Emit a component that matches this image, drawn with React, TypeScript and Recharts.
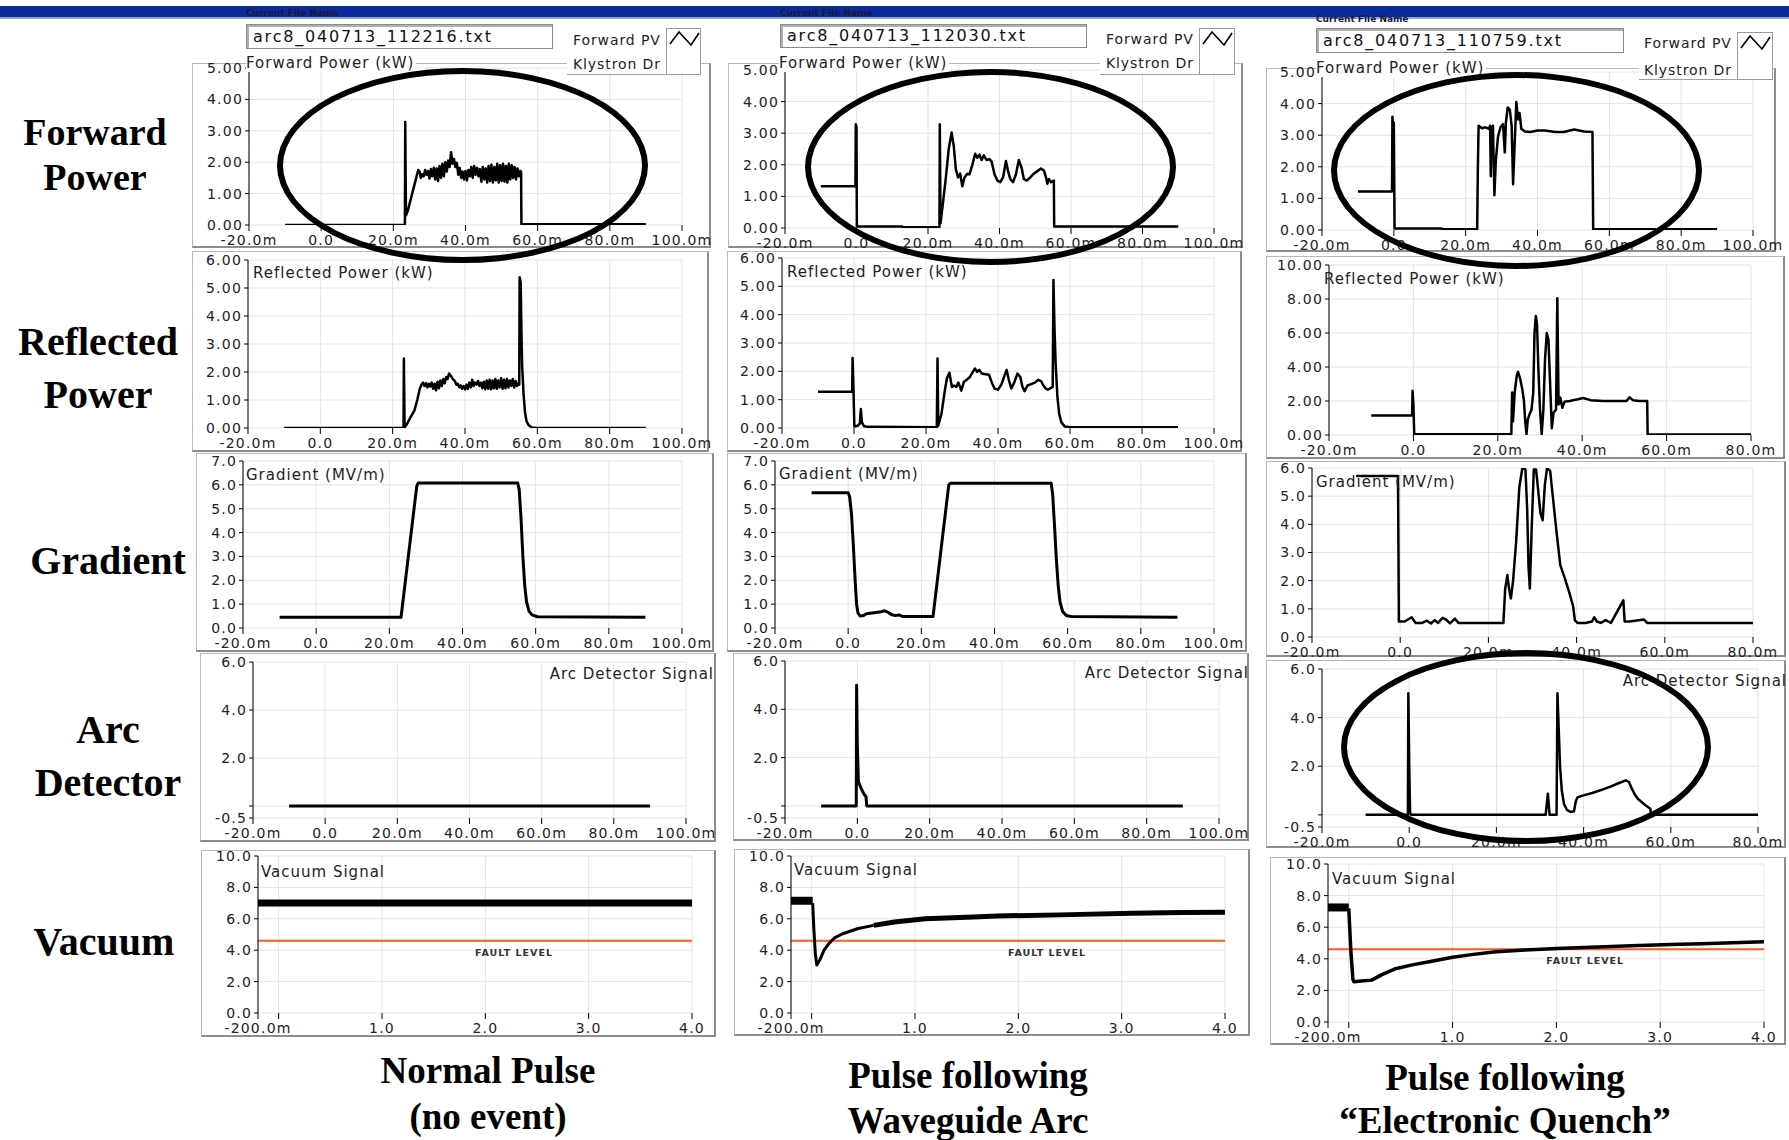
import React from "react";
import { LineChart, Line, XAxis, YAxis, CartesianGrid, ReferenceLine } from "recharts";

type Pt = [number, number];

// axis ticks
const msTicks100 = [-20, 0, 20, 40, 60, 80, 100];
const msTicks80 = [-20, 0, 20, 40, 60, 80];
const secTicks = [-0.2, 0, 1, 2, 3, 4];
const fwdTicks = [0, 1, 2, 3, 4, 5];
const refTicks = [0, 1, 2, 3, 4, 5, 6];
const refTicksWide = [0, 2, 4, 6, 8, 10];
const gradTicks = [0, 1, 2, 3, 4, 5, 6, 7];
const gradTicksShort = [0, 1, 2, 3, 4, 5, 6];
const arcTicks = [-0.5, 0, 2, 4, 6];
const vacTicks = [0, 2, 4, 6, 8, 10];
const faultLevel = 4.6;

const fileNames = ["arc8_040713_112216.txt", "arc8_040713_112030.txt", "arc8_040713_110759.txt"];
const legendNames = ["Forward PV", "Klystron Dr"];
const rowLabels = [["Forward", "Power"], ["Reflected", "Power"], ["Gradient"], ["Arc", "Detector"], ["Vacuum"]];
const captions = [
  ["Normal Pulse", "(no event)"],
  ["Pulse following", "Waveguide Arc"],
  ["Pulse following", "\u201CElectronic Quench\u201D"],
];

// ---- normal pulse (time in ms, vacuum time in s) ----
const fwdNormal: Pt[] = [
  [-10, 0], [23.2, 0], [23.3, 3.28], [23.5, 0.3], [24, 0.45], [25, 0.9], [26, 1.35], [26.9, 1.75],
  [27.3, 1.7], [27.6, 1.5], [28, 1.62], [28.4, 1.55], [28.8, 1.75], [29.2, 1.6], [29.6, 1.72], [30, 1.48],
  [30.4, 1.78], [30.8, 1.55], [31.2, 1.82], [31.6, 1.45], [32, 1.8], [32.4, 1.4], [32.8, 1.88], [33.2, 1.5],
  [33.6, 1.95], [34, 1.55], [34.4, 2.0], [34.8, 1.7], [35.2, 2.05], [35.6, 1.85], [36, 2.32], [36.4, 1.95],
  [36.8, 2.1], [37.2, 1.85], [37.6, 1.98], [38, 1.6], [38.4, 1.82], [38.8, 1.5], [39.2, 1.7], [39.6, 1.45],
  [40, 1.72], [40.4, 1.42], [40.8, 1.75], [41.2, 1.55], [41.6, 1.85], [42, 1.5], [42.4, 1.88], [42.8, 1.6],
  [43.2, 1.82], [43.6, 1.55], [44, 1.78], [44.4, 1.38], [44.8, 1.85], [45.2, 1.45], [45.6, 1.8], [46, 1.35],
  [46.4, 1.88], [46.8, 1.4], [47.2, 1.92], [47.6, 1.35], [48, 1.85], [48.4, 1.42], [48.8, 1.95], [49.2, 1.35],
  [49.6, 1.9], [50, 1.4], [50.4, 1.95], [50.8, 1.38], [51.2, 1.88], [51.6, 1.35], [52, 1.95], [52.4, 1.45],
  [52.8, 1.9], [53.2, 1.5], [53.6, 1.85], [54, 1.45], [54.4, 1.8], [54.8, 1.55], [55.2, 1.72], [55.4, 1.7],
  [55.5, 0.02], [90, 0.02],
];
const refNormal: Pt[] = [
  [-10, 0], [23, 0], [23.1, 2.48], [23.3, 0.02], [24, 0.15], [25, 0.4], [26, 0.62], [26.8, 1.0], [27.5, 1.4],
  [28, 1.55], [28.4, 1.62], [28.8, 1.5], [29.2, 1.6], [29.6, 1.45], [30, 1.58], [30.4, 1.48], [30.8, 1.62],
  [31.2, 1.4], [31.6, 1.58], [32, 1.35], [32.4, 1.65], [32.8, 1.42], [33.2, 1.7], [33.6, 1.5], [34, 1.75],
  [34.4, 1.6], [34.8, 1.82], [35.2, 1.75], [35.6, 1.95], [36, 1.88], [36.4, 1.8], [36.8, 1.72], [37.2, 1.68],
  [37.6, 1.55], [38, 1.58], [38.4, 1.45], [38.8, 1.52], [39.2, 1.4], [39.6, 1.5], [40, 1.38], [40.4, 1.55],
  [40.8, 1.4], [41.2, 1.62], [41.6, 1.45], [42, 1.72], [42.4, 1.5], [42.8, 1.62], [43.2, 1.55], [43.6, 1.68],
  [44, 1.5], [44.4, 1.62], [44.8, 1.42], [45.2, 1.65], [45.6, 1.38], [46, 1.7], [46.4, 1.4], [46.8, 1.72],
  [47.2, 1.38], [47.6, 1.7], [48, 1.42], [48.4, 1.75], [48.8, 1.4], [49.2, 1.7], [49.6, 1.45], [50, 1.78],
  [50.4, 1.4], [50.8, 1.72], [51.2, 1.42], [51.6, 1.75], [52, 1.45], [52.4, 1.7], [52.8, 1.5], [53.2, 1.75],
  [53.6, 1.45], [54, 1.68], [54.4, 1.5], [54.8, 1.6], [55, 1.55], [55.1, 5.38], [55.4, 5.2], [55.6, 3.5],
  [55.8, 2.2], [56.2, 1.2], [56.6, 0.55], [57, 0.25], [57.6, 0.1], [58.5, 0.02], [60, 0], [90, 0],
];
const gradNormal: Pt[] = [
  [-10, 0.45], [23.2, 0.45], [27.5, 5.95], [27.9, 6.08], [55.1, 6.08], [55.5, 5.8], [56, 4.6], [56.5, 3.0],
  [57, 1.8], [57.5, 1.1], [58.2, 0.7], [59, 0.55], [60.5, 0.47], [90, 0.45],
];
const arcNormal: Pt[] = [[-10, 0], [90, 0]];
const vacNormal: Pt[] = [[-0.2, 7.0], [4.0, 7.0]];

// ---- pulse following waveguide arc ----
const fwdArc: Pt[] = [
  [-10, 1.32], [-0.3, 1.32], [-0.2, 3.28], [0, 3.2], [0.1, 0.05], [12.8, 0.05], [13, 0.02], [23.2, 0.02],
  [23.3, 3.28], [23.5, 0.15], [24.2, 0.8], [25, 1.6], [25.8, 2.5], [26.6, 3.02], [27.2, 2.6], [27.8, 1.85],
  [28.4, 1.6], [29, 1.72], [29.6, 1.32], [30.2, 1.6], [31, 1.72], [31.6, 1.7], [32.4, 2.0], [33.2, 2.35],
  [33.8, 2.22], [34.4, 2.32], [35, 2.15], [35.6, 2.3], [36.4, 2.15], [37.2, 2.18], [37.8, 2.1], [38.6, 1.7],
  [39.4, 1.5], [40.2, 1.45], [41, 1.6], [41.8, 2.12], [42.4, 1.8], [43, 1.55], [43.8, 1.45], [44.6, 1.7],
  [45.4, 2.15], [46.2, 1.9], [46.8, 1.55], [47.6, 1.5], [48.6, 1.6], [49.6, 1.72], [50.6, 1.8], [51.6, 1.88],
  [52.4, 1.82], [53, 1.6], [53.4, 1.4], [53.8, 1.55], [54.4, 1.45], [55.2, 1.5], [55.3, 0.05], [90, 0.05],
];
const refArc: Pt[] = [
  [-10, 1.28], [-0.5, 1.28], [-0.4, 2.47], [-0.2, 1.65], [0.1, 0.05], [1, 0.08], [1.6, 0.15], [1.9, 0.67],
  [2.2, 0.2], [2.8, 0.06], [4, 0.04], [23, 0.03], [23.2, 2.45], [23.4, 0.08], [24.3, 0.5], [25.2, 1.3],
  [25.8, 1.75], [26.5, 1.95], [27.2, 1.45], [27.8, 1.5], [28.4, 1.45], [29, 1.6], [29.8, 1.32], [30.5, 1.62],
  [31.3, 1.7], [32.2, 1.8], [33, 1.98], [33.6, 2.1], [34.2, 1.98], [34.8, 2.05], [35.5, 1.92], [36.5, 1.9],
  [37.5, 1.88], [38.3, 1.6], [39, 1.4], [40, 1.35], [41, 1.55], [41.8, 1.85], [42.4, 2.05], [43, 1.7],
  [43.7, 1.4], [44.5, 1.6], [45.4, 1.92], [46.2, 1.8], [46.8, 1.45], [47.4, 1.3], [48.2, 1.5], [49.2, 1.55],
  [50.2, 1.6], [51.2, 1.7], [52, 1.65], [52.6, 1.5], [53.2, 1.4], [53.8, 1.35], [54.5, 1.4], [55.2, 1.45],
  [55.4, 5.22], [55.7, 3.5], [56, 2.3], [56.5, 1.1], [57, 0.5], [57.6, 0.2], [58.6, 0.05], [60, 0.03], [90, 0.03],
];
const gradArc: Pt[] = [
  [-10, 5.67], [0, 5.67], [0.4, 5.5], [0.9, 4.8], [1.4, 3.5], [1.9, 2.0], [2.3, 1.0], [2.7, 0.62], [3.3, 0.5],
  [4.2, 0.52], [5, 0.6], [6, 0.62], [7.5, 0.65], [9, 0.68], [10, 0.72], [11, 0.65], [12, 0.55], [13, 0.52],
  [13.8, 0.55], [15, 0.48], [23.2, 0.48], [27.5, 6.0], [28, 6.07], [55.5, 6.07], [55.9, 5.6], [56.4, 4.3],
  [56.9, 2.9], [57.4, 1.8], [57.9, 1.1], [58.6, 0.7], [59.6, 0.52], [61, 0.48], [90, 0.45],
];
const arcArc: Pt[] = [
  [-10, 0], [-0.3, 0], [-0.2, 5.0], [0, 2.5], [0.1, 2.0], [0.3, 1.0], [1, 0.75], [1.8, 0.5], [2.4, 0.38],
  [2.6, 0], [90, 0],
];
const vacArcPre: Pt[] = [[-0.2, 7.15], [0.01, 7.15]];
const vacArcDip: Pt[] = [
  [0.01, 7.0], [0.02, 5.5], [0.035, 3.8], [0.05, 3.05], [0.08, 3.4], [0.12, 4.0], [0.17, 4.45], [0.22, 4.78],
  [0.3, 5.05], [0.45, 5.38], [0.6, 5.58],
];
const vacArcRecovery: Pt[] = [
  [0.6, 5.58], [0.8, 5.8], [1.1, 6.0], [1.5, 6.1], [1.8, 6.18], [2.4, 6.25], [3.1, 6.35], [3.6, 6.4], [4.0, 6.42],
];

// ---- pulse following "electronic quench" ----
const fwdQuench: Pt[] = [
  [-10, 1.22], [-0.5, 1.22], [-0.4, 3.58], [-0.2, 3.3], [0, 3.4], [0.2, 0.05], [13.4, 0.05], [13.6, 0.02],
  [23.2, 0.02], [23.4, 2.0], [23.6, 3.3], [24.5, 3.22], [25.5, 3.25], [26.5, 3.2], [26.8, 3.3], [27, 1.7],
  [27.2, 3.2], [27.6, 3.3], [28, 1.1], [28.4, 2.2], [29, 2.95], [29.7, 3.25], [30.4, 3.35], [30.9, 2.45],
  [31.2, 3.4], [31.7, 3.88], [32.3, 3.8], [32.8, 3.3], [33.2, 1.45], [33.6, 2.6], [34.1, 4.05], [34.6, 3.5],
  [35, 3.7], [35.5, 3.2], [36.5, 3.12], [38, 3.1], [40, 3.15], [42, 3.15], [45, 3.1], [47.3, 3.1],
  [50.2, 3.18], [53, 3.12], [55.3, 3.1], [55.5, 0.02], [90, 0.02],
];
const refQuench: Pt[] = [
  [-10, 1.15], [-0.3, 1.15], [-0.2, 2.6], [0, 1.8], [0.2, 0.05], [23.2, 0.05], [23.4, 2.5], [23.6, 0.8],
  [24, 2.5], [24.5, 3.5], [24.8, 3.72], [25.3, 3.3], [25.8, 2.7], [26.2, 2.0], [26.5, 0.8], [26.8, 0.05],
  [27.1, 0.9], [27.5, 1.2], [28, 1.5], [28.4, 2.5], [28.7, 6.0], [29, 7.0], [29.3, 6.5], [29.6, 4.0],
  [30, 1.5], [30.4, 0.05], [30.8, 1.5], [31.2, 4.5], [31.6, 6.0], [32, 5.6], [32.4, 3.0], [32.8, 0.4],
  [33.2, 1.3], [33.8, 1.5], [34.1, 8.05], [34.4, 1.8], [34.8, 2.2], [35.3, 1.6], [35.8, 1.95], [37, 2.0],
  [39, 2.1], [40.2, 2.18], [42, 2.05], [45, 2.0], [48, 2.0], [50.5, 2.0], [51.2, 2.22], [52, 2.05],
  [53.5, 2.0], [55.4, 2.0], [55.5, 0.03], [80, 0.03],
];
const gradQuench: Pt[] = [
  [-10, 5.72], [-0.5, 5.72], [-0.3, 0.55], [1, 0.55], [2.6, 0.7], [3.5, 0.5], [5, 0.5], [6, 0.58], [7, 0.48],
  [7.8, 0.6], [8.6, 0.5], [9.6, 0.68], [10.4, 0.62], [11.3, 0.48], [12.4, 0.65], [13.2, 0.5], [15, 0.5],
  [23.4, 0.5], [23.8, 1.7], [24.3, 2.2], [24.7, 1.7], [25.1, 1.37], [25.6, 2.0], [26.3, 3.4], [27, 5.3],
  [27.7, 6.0], [28.4, 5.95], [28.8, 4.5], [29.1, 2.5], [29.4, 1.72], [29.8, 3.8], [30.3, 5.95], [30.8, 5.95],
  [31.3, 5.2], [31.8, 4.4], [32.3, 4.15], [32.8, 5.4], [33.3, 6.0], [34, 5.9], [34.6, 5.0], [35.4, 3.8],
  [36.3, 2.55], [37.3, 2.1], [38.3, 1.6], [39.2, 1.1], [39.6, 0.6], [40.2, 0.5], [42, 0.5], [43.5, 0.55],
  [44, 0.7], [44.6, 0.55], [45.5, 0.5], [46.6, 0.6], [47.8, 0.5], [50.6, 1.3], [50.9, 0.55], [52, 0.55],
  [55.3, 0.62], [56, 0.5], [80, 0.5],
];
const arcQuench: Pt[] = [
  [-10, 0], [-0.3, 0], [-0.2, 5.0], [0, 2.1], [0.2, 0.1], [0.4, 0], [31.3, 0], [31.8, 0.87], [32.2, 0],
  [33.8, 0], [34, 5.0], [34.3, 3.5], [34.6, 2.0], [35, 1.0], [35.5, 0.45], [36.2, 0.2], [37, 0.12],
  [37.8, 0.15], [38.2, 0.55], [38.6, 0.72], [40, 0.8], [42, 0.9], [44, 1.02], [46, 1.15], [48, 1.3],
  [49.7, 1.42], [50.4, 1.35], [51, 1.1], [51.8, 0.82], [52.5, 0.65], [53.5, 0.5], [54.5, 0.35], [55.3, 0.25],
  [55.5, 0], [80, 0],
];
const vacQuenchPre: Pt[] = [[-0.2, 7.25], [0, 7.25]];
const vacQuenchPost: Pt[] = [
  [0, 7.2], [0.02, 4.5], [0.04, 2.7], [0.05, 2.55], [0.12, 2.6], [0.22, 2.65], [0.32, 3.0], [0.44, 3.35],
  [0.6, 3.6], [0.8, 3.85], [1.0, 4.1], [1.2, 4.28], [1.42, 4.45], [1.7, 4.56], [2.0, 4.65], [2.4, 4.75],
  [2.72, 4.82], [3.1, 4.9], [3.4, 4.95], [3.7, 5.02], [4.0, 5.08],
];

const sans = '"DejaVu Sans", Verdana, sans-serif';
const serif = '"Liberation Serif", "Times New Roman", serif';

const fmtMs = (v: number) => (v === 0 ? "0.0" : `${v.toFixed(1)}m`);
const fmtSec = (v: number) => (v === -0.2 ? "-200.0m" : v === 0 ? "" : v.toFixed(1));
const fmt2 = (v: number) => v.toFixed(2);
const fmt1 = (v: number) => v.toFixed(1);
const fmtArc = (v: number) => (v === 0 ? "" : v.toFixed(1));

type Geo = { l: number; t: number; r: number; b: number; x0: number; x1: number; y0: number; y1: number };
type Series = { data: Pt[]; width: number };
type PanelSpec = {
  geo: Geo;
  xDomain: [number, number];
  xTicks: number[];
  xFmt: (v: number) => string;
  yDomain: [number, number];
  yTicks: number[];
  yFmt: (v: number) => string;
  series: Series[];
  fault?: boolean;
};

const PAD = 12;
const Y_W = 40;
const X_H = 18;

function FaultLabel(props: any) {
  const vb = props.viewBox || { x: 0, y: 0, width: 0 };
  return (
    <text
      x={vb.x + vb.width * 0.59}
      y={vb.y + 15}
      textAnchor="middle"
      fontFamily={sans}
      fontSize={9.5}
      fontWeight="bold"
      letterSpacing={1}
      fill="#333"
    >
      FAULT LEVEL
    </text>
  );
}

function Panel({ p }: { p: PanelSpec }) {
  const g = p.geo;
  const w = g.r - g.l + PAD;
  const h = g.b - g.t + PAD * 2;
  const tick = { fontSize: 14, fill: "#222", fontFamily: sans, letterSpacing: 1.2 };
  return (
    <>
      <div
        style={{
          position: "absolute",
          left: g.l,
          top: g.t,
          width: g.r - g.l,
          height: g.b - g.t,
          boxSizing: "border-box",
          borderTop: "1px solid #b8b8b8",
          borderLeft: "1px solid #b8b8b8",
          borderRight: "2px solid #8c8c8c",
          borderBottom: "2px solid #8c8c8c",
          background: "#fff",
        }}
      />
      <div style={{ position: "absolute", left: g.l, top: g.t - PAD }}>
        <LineChart
          width={w}
          height={h}
          margin={{
            top: g.y0 - g.t + PAD,
            right: g.r + PAD - g.x1,
            bottom: Math.max(0, g.b + PAD - g.y1 - X_H),
            left: Math.max(0, g.x0 - g.l - Y_W),
          }}
        >
          <CartesianGrid stroke="#e4e4e4" />
          <XAxis
            type="number"
            dataKey="t"
            domain={p.xDomain}
            ticks={p.xTicks}
            interval={0}
            allowDataOverflow
            tickFormatter={p.xFmt}
            axisLine={false}
            tickLine={{ stroke: "#000" }}
            tickSize={6}
            tickMargin={4}
            height={X_H}
            tick={tick}
          />
          <YAxis
            type="number"
            domain={p.yDomain}
            ticks={p.yTicks}
            interval={0}
            allowDataOverflow
            tickFormatter={p.yFmt}
            axisLine={{ stroke: "#000" }}
            tickLine={{ stroke: "#000" }}
            tickSize={4}
            tickMargin={2}
            width={Y_W}
            tick={tick}
          />
          {p.fault && (
            <ReferenceLine y={faultLevel} stroke="#ff5a1f" strokeWidth={2} label={<FaultLabel />} />
          )}
          {p.series.map((s, i) => (
            <Line
              key={i}
              data={s.data.map(([t, v]) => ({ t, v }))}
              dataKey="v"
              type="linear"
              stroke="#000"
              strokeWidth={s.width}
              strokeLinejoin="round"
              dot={false}
              activeDot={false}
              isAnimationActive={false}
            />
          ))}
        </LineChart>
      </div>
    </>
  );
}

const geos: Record<string, Geo>[] = [
  {
    fwd: { l: 192, t: 63, r: 711, b: 248, x0: 249, x1: 682, y0: 68, y1: 225 },
    ref: { l: 192, t: 251, r: 709, b: 452, x0: 248, x1: 682, y0: 260, y1: 428 },
    grad: { l: 196, t: 453, r: 714, b: 652, x0: 243, x1: 682, y0: 461, y1: 628 },
    arc: { l: 200, t: 653, r: 716, b: 842, x0: 253, x1: 686, y0: 662, y1: 818 },
    vac: { l: 201, t: 850, r: 716, b: 1037, x0: 258, x1: 692, y0: 856, y1: 1013 },
  },
  {
    fwd: { l: 728, t: 63, r: 1243, b: 248, x0: 785, x1: 1214, y0: 70, y1: 228 },
    ref: { l: 727, t: 251, r: 1242, b: 452, x0: 782, x1: 1214, y0: 258, y1: 428 },
    grad: { l: 727, t: 453, r: 1247, b: 652, x0: 775, x1: 1214, y0: 461, y1: 628 },
    arc: { l: 733, t: 653, r: 1249, b: 841, x0: 785, x1: 1219, y0: 661, y1: 818 },
    vac: { l: 734, t: 849, r: 1250, b: 1036, x0: 791, x1: 1225, y0: 856, y1: 1013 },
  },
  {
    fwd: { l: 1266, t: 68, r: 1776, b: 252, x0: 1322, x1: 1753, y0: 72, y1: 230 },
    ref: { l: 1266, t: 256, r: 1785, b: 459, x0: 1329, x1: 1751, y0: 265, y1: 435 },
    grad: { l: 1266, t: 461, r: 1786, b: 657, x0: 1312, x1: 1753, y0: 468, y1: 637 },
    arc: { l: 1266, t: 660, r: 1786, b: 848, x0: 1322, x1: 1758, y0: 669, y1: 827 },
    vac: { l: 1270, t: 857, r: 1786, b: 1045, x0: 1328, x1: 1764, y0: 864, y1: 1022 },
  },
];

const ms100 = { xDomain: [-20, 100] as [number, number], xTicks: msTicks100, xFmt: fmtMs };
const ms80 = { xDomain: [-20, 80] as [number, number], xTicks: msTicks80, xFmt: fmtMs };
const sec = { xDomain: [-0.2, 4] as [number, number], xTicks: secTicks, xFmt: fmtSec };
const fwdY = { yDomain: [0, 5] as [number, number], yTicks: fwdTicks, yFmt: fmt2 };
const refY = { yDomain: [0, 6] as [number, number], yTicks: refTicks, yFmt: fmt2 };
const refYWide = { yDomain: [0, 10] as [number, number], yTicks: refTicksWide, yFmt: fmt2 };
const gradY = { yDomain: [0, 7] as [number, number], yTicks: gradTicks, yFmt: fmt1 };
const gradYShort = { yDomain: [0, 6] as [number, number], yTicks: gradTicksShort, yFmt: fmt1 };
const arcY = { yDomain: [-0.5, 6] as [number, number], yTicks: arcTicks, yFmt: fmtArc };
const vacY = { yDomain: [0, 10] as [number, number], yTicks: vacTicks, yFmt: fmt1 };

const panels: PanelSpec[] = [
  { geo: geos[0].fwd, ...ms100, ...fwdY, series: [{ data: fwdNormal, width: 2.5 }] },
  { geo: geos[0].ref, ...ms100, ...refY, series: [{ data: refNormal, width: 2.5 }] },
  { geo: geos[0].grad, ...ms100, ...gradY, series: [{ data: gradNormal, width: 3 }] },
  { geo: geos[0].arc, ...ms100, ...arcY, series: [{ data: arcNormal, width: 3 }] },
  { geo: geos[0].vac, ...sec, ...vacY, fault: true, series: [{ data: vacNormal, width: 7 }] },
  { geo: geos[1].fwd, ...ms100, ...fwdY, series: [{ data: fwdArc, width: 2.5 }] },
  { geo: geos[1].ref, ...ms100, ...refY, series: [{ data: refArc, width: 2.5 }] },
  { geo: geos[1].grad, ...ms100, ...gradY, series: [{ data: gradArc, width: 3 }] },
  { geo: geos[1].arc, ...ms100, ...arcY, series: [{ data: arcArc, width: 3 }] },
  {
    geo: geos[1].vac, ...sec, ...vacY, fault: true,
    series: [{ data: vacArcPre, width: 8 }, { data: vacArcDip, width: 3 }, { data: vacArcRecovery, width: 5 }],
  },
  { geo: geos[2].fwd, ...ms100, ...fwdY, series: [{ data: fwdQuench, width: 2.5 }] },
  { geo: geos[2].ref, ...ms80, ...refYWide, series: [{ data: refQuench, width: 2.5 }] },
  { geo: geos[2].grad, ...ms80, ...gradYShort, series: [{ data: gradQuench, width: 2.5 }] },
  { geo: geos[2].arc, ...ms80, ...arcY, series: [{ data: arcQuench, width: 2.5 }] },
  {
    geo: geos[2].vac, ...sec, ...vacY, fault: true,
    series: [{ data: vacQuenchPre, width: 8 }, { data: vacQuenchPost, width: 3.5 }],
  },
];

type TitleSpec = { text: string; x: number; y: number; right?: boolean; bg?: boolean };
const titles: TitleSpec[] = [
  { text: "Forward Power (kW)", x: 246, y: 63, bg: true },
  { text: "Reflected Power (kW)", x: 253, y: 273 },
  { text: "Gradient (MV/m)", x: 246, y: 475 },
  { text: "Arc Detector Signal", x: 714, y: 674, right: true },
  { text: "Vacuum Signal", x: 261, y: 872 },
  { text: "Forward Power (kW)", x: 779, y: 63, bg: true },
  { text: "Reflected Power (kW)", x: 787, y: 272 },
  { text: "Gradient (MV/m)", x: 779, y: 474 },
  { text: "Arc Detector Signal", x: 1249, y: 673, right: true },
  { text: "Vacuum Signal", x: 794, y: 870 },
  { text: "Forward Power (kW)", x: 1316, y: 68, bg: true },
  { text: "Reflected Power (kW)", x: 1324, y: 279 },
  { text: "Gradient (MV/m)", x: 1316, y: 482 },
  { text: "Arc Detector Signal", x: 1787, y: 681, right: true },
  { text: "Vacuum Signal", x: 1332, y: 879 },
];

const headers = [
  { label: [246, 13], box: [246, 24, 553, 49], legendX: 573, legendY: [40, 64], icon: [666, 28, 701, 75], lineL: 567, top: 63 },
  { label: [780, 13], box: [780, 24, 1087, 48], legendX: 1106, legendY: [39, 63], icon: [1199, 28, 1235, 75], lineL: 1100, top: 63 },
  { label: [1316, 19], box: [1316, 28, 1624, 53], legendX: 1644, legendY: [43, 70], icon: [1737, 32, 1773, 80], lineL: 1639, top: 68 },
];

const rowLabelPos = [
  { x: 95, ys: [132, 177], size: 38 },
  { x: 98, ys: [342, 395], size: 40 },
  { x: 108, ys: [561], size: 40 },
  { x: 108, ys: [730, 783], size: 40 },
  { x: 104, ys: [942], size: 40 },
];
const captionPos = [
  { x: 488, ys: [1070, 1116] },
  { x: 968, ys: [1075, 1120] },
  { x: 1505, ys: [1077, 1120] },
];
const ellipses = [
  [277, 68, 648, 263],
  [805, 69, 1176, 265],
  [1331, 72, 1702, 269],
  [1341, 650, 1711, 844],
];

const abs = (l: number, t: number, extra: React.CSSProperties = {}): React.CSSProperties => ({
  position: "absolute",
  left: l,
  top: t,
  ...extra,
});

export default function App() {
  return (
    <div
      style={{
        position: "fixed",
        left: 0,
        top: 0,
        width: 1789,
        height: 1140,
        background: "#fff",
        overflow: "hidden",
        fontFamily: sans,
      }}
    >
      <div style={abs(0, 6, { width: 1789, height: 11, background: "#0b2b9c" })} />
      <div style={abs(0, 17, { width: 1789, height: 2, background: "#8ea2d6" })} />

      {panels.map((p, i) => (
        <Panel key={i} p={p} />
      ))}

      {headers.map((hd, i) => (
        <React.Fragment key={i}>
          <div
            style={abs(hd.label[0], hd.label[1] - 6, {
              fontSize: 9,
              fontWeight: "bold",
              color: "#1a1a3a",
              lineHeight: "12px",
              whiteSpace: "nowrap",
            })}
          >
            Current File Name
          </div>
          <div
            style={abs(hd.box[0], hd.box[1], {
              width: hd.box[2] - hd.box[0],
              height: hd.box[3] - hd.box[1],
              boxSizing: "border-box",
              border: "1px solid #8a8a8a",
              boxShadow: "inset 2px 2px 0 #b0b0b0",
              background: "#fff",
              fontSize: 16,
              letterSpacing: 1.8,
              lineHeight: `${hd.box[3] - hd.box[1] - 2}px`,
              paddingLeft: 6,
              color: "#111",
              whiteSpace: "nowrap",
            })}
          >
            {fileNames[i]}
          </div>
          <div
            style={abs(hd.lineL, hd.top - 1, {
              width: hd.icon[2] - hd.lineL,
              height: hd.icon[3] - hd.top + 1,
              boxSizing: "border-box",
              background: "#fff",
              borderBottom: "1px solid #a0a0a0",
            })}
          />
          {legendNames.map((t, k) => (
            <div
              key={k}
              style={abs(hd.legendX, hd.legendY[k] - 9, {
                fontSize: 14,
                letterSpacing: 0.9,
                lineHeight: "18px",
                color: "#222",
                whiteSpace: "nowrap",
              })}
            >
              {t}
            </div>
          ))}
          <div
            style={abs(hd.icon[0], hd.icon[1], {
              width: hd.icon[2] - hd.icon[0],
              height: hd.icon[3] - hd.icon[1],
              boxSizing: "border-box",
              border: "1px solid #9a9a9a",
              background: "#fff",
            })}
          >
            <svg width={hd.icon[2] - hd.icon[0] - 2} height={18}>
              <polyline points="3,15 12,3 24,16 32,4" fill="none" stroke="#000" strokeWidth={1.6} />
            </svg>
          </div>
        </React.Fragment>
      ))}

      {titles.map((t, i) => (
        <div
          key={i}
          style={abs(t.x, t.y - 9, {
            transform: t.right ? "translateX(-100%)" : undefined,
            fontSize: 15,
            letterSpacing: 1,
            lineHeight: "18px",
            color: "#222",
            whiteSpace: "nowrap",
            background: t.bg ? "#fff" : undefined,
            paddingRight: t.bg ? 2 : 0,
          })}
        >
          {t.text}
        </div>
      ))}

      {rowLabels.map((lines, i) =>
        lines.map((txt, k) => (
          <div
            key={`${i}-${k}`}
            style={abs(rowLabelPos[i].x, rowLabelPos[i].ys[k], {
              transform: "translate(-50%, -50%)",
              fontFamily: serif,
              fontWeight: "bold",
              fontSize: rowLabelPos[i].size,
              color: "#000",
              whiteSpace: "nowrap",
              lineHeight: 1,
            })}
          >
            {txt}
          </div>
        ))
      )}

      {captions.map((lines, i) =>
        lines.map((txt, k) => (
          <div
            key={`c${i}-${k}`}
            style={abs(captionPos[i].x, captionPos[i].ys[k], {
              transform: "translate(-50%, -50%)",
              fontFamily: serif,
              fontWeight: "bold",
              fontSize: 37,
              color: "#000",
              whiteSpace: "nowrap",
              lineHeight: 1,
            })}
          >
            {txt}
          </div>
        ))
      )}

      {ellipses.map((e, i) => (
        <div
          key={`e${i}`}
          style={abs(e[0], e[1], {
            width: e[2] - e[0],
            height: e[3] - e[1],
            boxSizing: "border-box",
            border: "6px solid #000",
            borderRadius: "50%",
            pointerEvents: "none",
          })}
        />
      ))}
    </div>
  );
}
